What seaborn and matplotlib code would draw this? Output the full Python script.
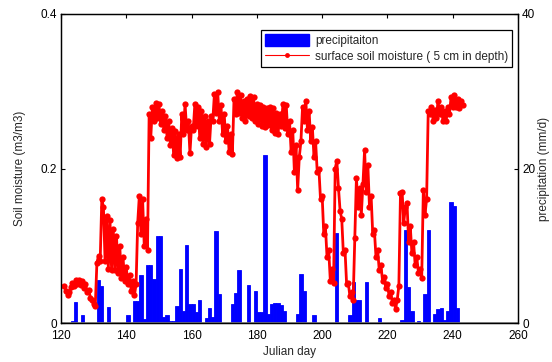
import numpy as np
import matplotlib
matplotlib.use("Agg")
import matplotlib.pyplot as plt
import seaborn as sns
from matplotlib.patches import Patch
from matplotlib.lines import Line2D

# daily precipitation (mm/d), only the days with rain
precip_day = [123, 124, 126, 131, 132, 134, 140, 142, 143, 144, 145, 146, 147, 148, 149, 150,
              151, 152, 153, 154, 155, 156, 157, 158, 159, 160, 161, 162, 164, 165, 166, 167,
              168, 172, 173, 174, 177, 179, 180, 181, 182, 183, 184, 185, 186, 187, 188, 192,
              193, 194, 197, 204, 208, 209, 210, 211, 213, 217, 224, 225, 226, 227, 229, 231,
              232, 234, 235, 236, 237, 238, 239, 240, 241]
precip_mm = [0.2, 2.7, 1.0, 5.6, 4.8, 2.1, 1.0, 2.8, 2.8, 6.2, 0.5, 7.5, 7.5, 5.7, 11.3, 11.3,
             0.8, 1.0, 0.3, 0.2, 2.2, 7.0, 1.6, 10.1, 2.5, 2.5, 1.4, 3.0, 0.7, 2.0, 0.8, 11.9,
             3.7, 2.4, 3.9, 6.9, 4.9, 4.1, 1.4, 1.4, 21.7, 1.2, 2.4, 2.6, 2.6, 2.3, 1.6, 1.2,
             6.4, 4.1, 1.0, 11.6, 1.0, 5.3, 3.0, 3.0, 5.3, 0.6, 0.4, 12.0, 4.6, 1.6, 0.2, 3.8,
             12.0, 1.2, 1.8, 1.9, 0.4, 1.5, 15.6, 15.2, 2.0]

# surface soil moisture, read every half day from day 121 to 243
sm_day = np.arange(121.0, 243.01, 0.5)
soil_moisture = [
    0.048, 0.042, 0.036, 0.040, 0.046, 0.052, 0.048, 0.056, 0.050, 0.056,  # 121-125.5
    0.049, 0.055, 0.045, 0.050, 0.040, 0.043, 0.033, 0.030, 0.024, 0.022,  # 126-130.5
    0.078, 0.087, 0.080, 0.160, 0.150, 0.080, 0.138, 0.070, 0.133, 0.068,  # 131-135.5
    0.122, 0.069, 0.112, 0.065, 0.100, 0.058, 0.085, 0.055, 0.072, 0.050,  # 136-140.5
    0.062, 0.042, 0.055, 0.036, 0.050, 0.130, 0.165, 0.115, 0.160, 0.100,  # 141-145.5
    0.135, 0.095, 0.270, 0.240, 0.280, 0.262, 0.285, 0.265, 0.284, 0.258,  # 146-150.5
    0.275, 0.250, 0.268, 0.240, 0.262, 0.230, 0.252, 0.218, 0.248, 0.213,  # 151-155.5
    0.245, 0.215, 0.270, 0.245, 0.284, 0.250, 0.262, 0.220, 0.255, 0.250,  # 156-160.5
    0.283, 0.255, 0.280, 0.240, 0.275, 0.232, 0.268, 0.228, 0.262, 0.232,  # 161-165.5
    0.268, 0.262, 0.297, 0.272, 0.299, 0.262, 0.282, 0.245, 0.270, 0.236,  # 166-170.5
    0.255, 0.222, 0.245, 0.219, 0.290, 0.270, 0.299, 0.272, 0.295, 0.265,  # 171-175.5
    0.288, 0.262, 0.290, 0.268, 0.294, 0.265, 0.292, 0.262, 0.284, 0.258,  # 176-180.5
    0.282, 0.255, 0.280, 0.254, 0.278, 0.256, 0.280, 0.250, 0.278, 0.246,  # 181-185.5
    0.272, 0.245, 0.270, 0.255, 0.284, 0.252, 0.282, 0.245, 0.262, 0.222,  # 186-190.5
    0.250, 0.195, 0.230, 0.172, 0.215, 0.235, 0.280, 0.262, 0.288, 0.250,  # 191-195.5
    0.275, 0.235, 0.254, 0.215, 0.235, 0.195, 0.200, 0.160, 0.165, 0.115,  # 196-200.5
    0.125, 0.085, 0.095, 0.055, 0.070, 0.052, 0.200, 0.210, 0.175, 0.145,  # 201-205.5
    0.135, 0.090, 0.095, 0.050, 0.052, 0.035, 0.040, 0.030, 0.110, 0.188,  # 206-210.5
    0.150, 0.175, 0.140, 0.180, 0.224, 0.170, 0.205, 0.150, 0.165, 0.115,  # 211-215.5
    0.120, 0.085, 0.095, 0.068, 0.075, 0.055, 0.060, 0.045, 0.050, 0.035,  # 216-220.5
    0.040, 0.026, 0.030, 0.018, 0.030, 0.048, 0.168, 0.170, 0.130, 0.150,  # 221-225.5
    0.155, 0.105, 0.125, 0.090, 0.105, 0.075, 0.085, 0.065, 0.070, 0.058,  # 226-230.5
    0.172, 0.140, 0.160, 0.275, 0.270, 0.280, 0.262, 0.276, 0.265, 0.288,  # 231-235.5
    0.270, 0.280, 0.262, 0.275, 0.262, 0.280, 0.270, 0.293, 0.280, 0.295,  # 236-240.5
    0.280, 0.290, 0.278, 0.288, 0.282,                                     # 241-243
]

sns.set_style("white")
plt.rcParams['font.family'] = ['Liberation Sans', 'DejaVu Sans']
fs = 8.5

fig = plt.figure(figsize=(5.52, 3.62), dpi=100)
ax1 = fig.add_axes([61 / 552, 39 / 362, 457 / 552, 309 / 362])
ax2 = ax1.twinx()

# precipitation bars (right axis)
ax2.bar(precip_day, precip_mm, width=1, align='edge', color='blue',
        edgecolor='blue', linewidth=0.6)
ax2.axhline(0, color='0.55', lw=1.2)
ax2.set_ylim(0, 40)
ax2.set_yticks([0, 20, 40])
ax2.set_ylabel('precipitation (mm/d)', fontsize=fs)
ax2.yaxis.set_label_coords(1.044, 0.5)

# soil moisture line on top, drawn thick so the half-day swings read as a band
ax1.set_zorder(ax2.get_zorder() + 1)
ax1.patch.set_visible(False)
sns.lineplot(x=sm_day, y=soil_moisture, ax=ax1, color='red', marker='o',
             markersize=4.5, markeredgewidth=0, linewidth=2.0)
ax1.set_xlim(120, 260)
ax1.set_ylim(0, 0.4)
ax1.set_xticks(range(120, 261, 20))
ax1.set_yticks([0, 0.2, 0.4])
ax1.set_yticklabels(['0', '0.2', '0.4'])
ax1.set_xlabel('Julian day', fontsize=fs)
ax1.set_ylabel('Soil moisture (m3/m3)', fontsize=fs)
ax1.xaxis.set_label_coords(0.5, -0.075)
ax1.yaxis.set_label_coords(-0.077, 0.5)

for ax in (ax1, ax2):
    ax.tick_params(direction='in', length=3, width=0.8, labelsize=fs, pad=3, colors='black')
    for sp in ax.spines.values():
        sp.set_color('black')
        sp.set_linewidth(0.9)
ax1.tick_params(axis='x', top=True, pad=5)

handles = [Patch(facecolor='blue', edgecolor='blue'),
           Line2D([0], [0], color='red', lw=0.8, marker='o', markersize=3.5, markeredgewidth=0)]
leg = ax1.legend(handles, ['precipitaiton', 'surface soil moisture ( 5 cm in depth)'],
                 loc='upper right', bbox_to_anchor=(0.987, 0.948), fontsize=fs,
                 frameon=True, fancybox=False, framealpha=1, edgecolor='black',
                 handlelength=3.8, handleheight=1.2, handletextpad=0.5,
                 labelspacing=0.3, borderpad=0.3, borderaxespad=0)
leg.get_frame().set_linewidth(0.9)

fig.savefig('out.png', dpi=100)
